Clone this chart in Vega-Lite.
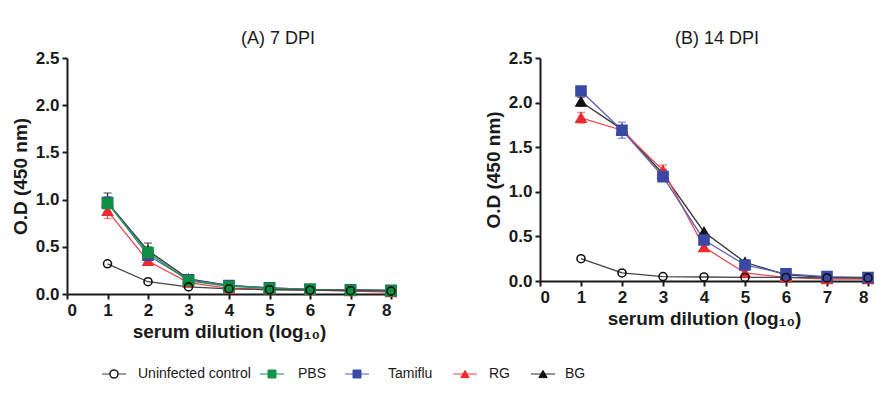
{
  "$schema": "https://vega.github.io/schema/vega-lite/v6.json",
  "background": "white",
  "autosize": {"type": "pad"},
  "padding": {"left": 11, "top": 30, "right": 5, "bottom": 5},
  "spacing": 23,
  "config": {
    "view": {"stroke": null},
    "axis": {
      "grid": false,
      "labelFont": "Liberation Sans", "labelFontWeight": "bold", "labelFontSize": 17, "labelColor": "#1a1a1a",
      "titleFont": "Liberation Sans", "titleFontWeight": "bold", "titleFontSize": 19, "titleColor": "#1a1a1a",
      "domainColor": "#1a1a1a", "domainWidth": 2, "tickColor": "#1a1a1a", "tickWidth": 2, "tickSize": 5
    },
    "title": {"font": "Liberation Sans", "fontSize": 18, "fontWeight": "normal", "color": "#1a1a1a"},
    "text": {"font": "Liberation Sans", "fontSize": 14, "color": "#1a1a1a", "align": "left", "baseline": "middle"},
    "tick": {"orient": "horizontal", "size": 24, "thickness": 1.5}
  },
  "datasets": {
    "d": [
      {"panel": "A", "series": "BG", "x": 1, "y": 0.97, "err": 0.1},
      {"panel": "A", "series": "BG", "x": 2, "y": 0.46, "err": 0.08},
      {"panel": "A", "series": "BG", "x": 3, "y": 0.16, "err": 0},
      {"panel": "A", "series": "BG", "x": 4, "y": 0.09, "err": 0},
      {"panel": "A", "series": "BG", "x": 5, "y": 0.065, "err": 0},
      {"panel": "A", "series": "BG", "x": 6, "y": 0.05, "err": 0},
      {"panel": "A", "series": "BG", "x": 7, "y": 0.045, "err": 0},
      {"panel": "A", "series": "BG", "x": 8, "y": 0.035, "err": 0},
      {"panel": "A", "series": "RG", "x": 1, "y": 0.88, "err": 0.08},
      {"panel": "A", "series": "RG", "x": 2, "y": 0.35, "err": 0.03},
      {"panel": "A", "series": "RG", "x": 3, "y": 0.12, "err": 0},
      {"panel": "A", "series": "RG", "x": 4, "y": 0.06, "err": 0},
      {"panel": "A", "series": "RG", "x": 5, "y": 0.05, "err": 0},
      {"panel": "A", "series": "RG", "x": 6, "y": 0.04, "err": 0},
      {"panel": "A", "series": "RG", "x": 7, "y": 0.03, "err": 0},
      {"panel": "A", "series": "RG", "x": 8, "y": 0.02, "err": 0},
      {"panel": "A", "series": "Tamiflu", "x": 1, "y": 0.97, "err": 0.06},
      {"panel": "A", "series": "Tamiflu", "x": 2, "y": 0.41, "err": 0},
      {"panel": "A", "series": "Tamiflu", "x": 3, "y": 0.15, "err": 0},
      {"panel": "A", "series": "Tamiflu", "x": 4, "y": 0.09, "err": 0},
      {"panel": "A", "series": "Tamiflu", "x": 5, "y": 0.065, "err": 0},
      {"panel": "A", "series": "Tamiflu", "x": 6, "y": 0.05, "err": 0},
      {"panel": "A", "series": "Tamiflu", "x": 7, "y": 0.045, "err": 0},
      {"panel": "A", "series": "Tamiflu", "x": 8, "y": 0.04, "err": 0},
      {"panel": "A", "series": "PBS", "x": 1, "y": 0.96, "err": 0.05},
      {"panel": "A", "series": "PBS", "x": 2, "y": 0.44, "err": 0.06},
      {"panel": "A", "series": "PBS", "x": 3, "y": 0.14, "err": 0},
      {"panel": "A", "series": "PBS", "x": 4, "y": 0.08, "err": 0},
      {"panel": "A", "series": "PBS", "x": 5, "y": 0.06, "err": 0},
      {"panel": "A", "series": "PBS", "x": 6, "y": 0.05, "err": 0},
      {"panel": "A", "series": "PBS", "x": 7, "y": 0.04, "err": 0},
      {"panel": "A", "series": "PBS", "x": 8, "y": 0.035, "err": 0},
      {"panel": "A", "series": "Uninfected control", "x": 1, "y": 0.32, "err": 0},
      {"panel": "A", "series": "Uninfected control", "x": 2, "y": 0.13, "err": 0},
      {"panel": "A", "series": "Uninfected control", "x": 3, "y": 0.075, "err": 0},
      {"panel": "A", "series": "Uninfected control", "x": 4, "y": 0.055, "err": 0},
      {"panel": "A", "series": "Uninfected control", "x": 5, "y": 0.045, "err": 0},
      {"panel": "A", "series": "Uninfected control", "x": 6, "y": 0.04, "err": 0},
      {"panel": "A", "series": "Uninfected control", "x": 7, "y": 0.035, "err": 0},
      {"panel": "A", "series": "Uninfected control", "x": 8, "y": 0.03, "err": 0},
      {"panel": "B", "series": "BG", "x": 1, "y": 2.01, "err": 0.05},
      {"panel": "B", "series": "BG", "x": 2, "y": 1.7, "err": 0},
      {"panel": "B", "series": "BG", "x": 3, "y": 1.2, "err": 0.05},
      {"panel": "B", "series": "BG", "x": 4, "y": 0.55, "err": 0},
      {"panel": "B", "series": "BG", "x": 5, "y": 0.21, "err": 0},
      {"panel": "B", "series": "BG", "x": 6, "y": 0.07, "err": 0},
      {"panel": "B", "series": "BG", "x": 7, "y": 0.04, "err": 0},
      {"panel": "B", "series": "BG", "x": 8, "y": 0.03, "err": 0},
      {"panel": "B", "series": "RG", "x": 1, "y": 1.83, "err": 0.06},
      {"panel": "B", "series": "RG", "x": 2, "y": 1.69, "err": 0},
      {"panel": "B", "series": "RG", "x": 3, "y": 1.24, "err": 0.06},
      {"panel": "B", "series": "RG", "x": 4, "y": 0.38, "err": 0},
      {"panel": "B", "series": "RG", "x": 5, "y": 0.09, "err": 0},
      {"panel": "B", "series": "RG", "x": 6, "y": 0.04, "err": 0},
      {"panel": "B", "series": "RG", "x": 7, "y": 0.02, "err": 0},
      {"panel": "B", "series": "RG", "x": 8, "y": 0.02, "err": 0},
      {"panel": "B", "series": "Tamiflu", "x": 1, "y": 2.13, "err": 0},
      {"panel": "B", "series": "Tamiflu", "x": 2, "y": 1.69, "err": 0.09},
      {"panel": "B", "series": "Tamiflu", "x": 3, "y": 1.17, "err": 0},
      {"panel": "B", "series": "Tamiflu", "x": 4, "y": 0.46, "err": 0.04},
      {"panel": "B", "series": "Tamiflu", "x": 5, "y": 0.18, "err": 0},
      {"panel": "B", "series": "Tamiflu", "x": 6, "y": 0.08, "err": 0},
      {"panel": "B", "series": "Tamiflu", "x": 7, "y": 0.05, "err": 0},
      {"panel": "B", "series": "Tamiflu", "x": 8, "y": 0.04, "err": 0},
      {"panel": "B", "series": "Uninfected control", "x": 1, "y": 0.25, "err": 0},
      {"panel": "B", "series": "Uninfected control", "x": 2, "y": 0.09, "err": 0},
      {"panel": "B", "series": "Uninfected control", "x": 3, "y": 0.05, "err": 0},
      {"panel": "B", "series": "Uninfected control", "x": 4, "y": 0.045, "err": 0},
      {"panel": "B", "series": "Uninfected control", "x": 5, "y": 0.04, "err": 0},
      {"panel": "B", "series": "Uninfected control", "x": 6, "y": 0.04, "err": 0},
      {"panel": "B", "series": "Uninfected control", "x": 7, "y": 0.035, "err": 0},
      {"panel": "B", "series": "Uninfected control", "x": 8, "y": 0.035, "err": 0}
    ],
    "legendItems": [
      {"series": "Uninfected control"},
      {"series": "PBS"},
      {"series": "Tamiflu"},
      {"series": "RG"},
      {"series": "BG"}
    ]
  },
  "vconcat": [
    {
      "spacing": 84,
      "hconcat": [
        {
          "width": 324, "height": 236,
          "title": {"text": "(A) 7 DPI", "frame": "group", "dx": 49, "offset": 1},
          "data": {"name": "d"},
          "transform": [{"filter": "datum.panel === 'A'"}],
          "encoding": {
            "x": {"field": "x", "type": "quantitative", "scale": {"domain": [0, 8], "nice": false},
                  "axis": {"values": [0, 1, 2, 3, 4, 5, 6, 7, 8], "title": "serum dilution (log₁₀)", "labelPadding": 3, "titlePadding": 4}},
            "y": {"field": "y", "type": "quantitative", "scale": {"domain": [0, 2.5], "nice": false},
                  "axis": {"values": [0, 0.5, 1, 1.5, 2, 2.5], "format": ".1f", "title": "O.D (450 nm)", "labelPadding": 3, "titlePadding": 5}}
          },
          "layer": [
            {
              "transform": [{"filter": "datum.err > 0"}],
              "mark": {"type": "errorbar", "ticks": {"size": 8, "thickness": 1.3}, "thickness": 1.3},
              "encoding": {
                "yError": {"field": "err"},
                "color": {"field": "series", "type": "nominal", "legend": null,
                  "scale": {"domain": ["Uninfected control", "PBS", "Tamiflu", "RG", "BG"], "range": ["#444444", "#1a9a4a", "#5a62b8", "#f0474d", "#333333"]}}
              }
            },
            {
              "mark": {"type": "line", "strokeWidth": 1.3},
              "encoding": {
                "color": {"field": "series", "type": "nominal", "legend": null,
                  "scale": {"domain": ["Uninfected control", "PBS", "Tamiflu", "RG", "BG"], "range": ["#444444", "#1a9a4a", "#5a62b8", "#f0474d", "#555555"]}}
              }
            },
            {
              "mark": {"type": "point", "strokeWidth": 1.6, "opacity": 1},
              "encoding": {
                "shape": {"condition": [{"test": "datum.series === 'Uninfected control'", "value": "circle"}, {"test": "datum.series === 'RG' || datum.series === 'BG'", "value": "triangle-up"}], "value": "square"},
                "size": {"condition": {"test": "datum.series === 'Uninfected control'", "value": 64}, "value": 100},
                "fill": {"condition": [{"test": "datum.series === 'Uninfected control'", "value": "transparent"}, {"test": "datum.series === 'PBS'", "value": "#0f8f42"}, {"test": "datum.series === 'Tamiflu'", "value": "#3a49a3"}, {"test": "datum.series === 'RG'", "value": "#ee2a31"}], "value": "#111111"},
                "stroke": {"condition": [{"test": "datum.series === 'Uninfected control'", "value": "#111111"}, {"test": "datum.series === 'PBS'", "value": "#0f8f42"}, {"test": "datum.series === 'Tamiflu'", "value": "#3a49a3"}, {"test": "datum.series === 'RG'", "value": "#ee2a31"}], "value": "#111111"}
              }
            }
          ]
        },
        {
          "width": 328, "height": 223,
          "title": {"text": "(B) 14 DPI", "frame": "group", "dx": 13, "offset": 1},
          "data": {"name": "d"},
          "transform": [{"filter": "datum.panel === 'B'"}],
          "encoding": {
            "x": {"field": "x", "type": "quantitative", "scale": {"domain": [0, 8], "nice": false},
                  "axis": {"values": [0, 1, 2, 3, 4, 5, 6, 7, 8], "title": "serum dilution (log₁₀)", "labelPadding": 3, "titlePadding": 4}},
            "y": {"field": "y", "type": "quantitative", "scale": {"domain": [0, 2.5], "nice": false},
                  "axis": {"values": [0, 0.5, 1, 1.5, 2, 2.5], "format": ".1f", "title": "O.D (450 nm)", "labelPadding": 3, "titlePadding": 5}}
          },
          "layer": [
            {
              "transform": [{"filter": "datum.err > 0"}],
              "mark": {"type": "errorbar", "ticks": {"size": 8, "thickness": 1.3}, "thickness": 1.3},
              "encoding": {
                "yError": {"field": "err"},
                "color": {"field": "series", "type": "nominal", "legend": null,
                  "scale": {"domain": ["Uninfected control", "PBS", "Tamiflu", "RG", "BG"], "range": ["#444444", "#1a9a4a", "#5a62b8", "#f0474d", "#333333"]}}
              }
            },
            {
              "mark": {"type": "line", "strokeWidth": 1.3},
              "encoding": {
                "color": {"field": "series", "type": "nominal", "legend": null,
                  "scale": {"domain": ["Uninfected control", "PBS", "Tamiflu", "RG", "BG"], "range": ["#444444", "#1a9a4a", "#5a62b8", "#f0474d", "#555555"]}}
              }
            },
            {
              "mark": {"type": "point", "strokeWidth": 1.6, "opacity": 1},
              "encoding": {
                "shape": {"condition": [{"test": "datum.series === 'Uninfected control'", "value": "circle"}, {"test": "datum.series === 'RG' || datum.series === 'BG'", "value": "triangle-up"}], "value": "square"},
                "size": {"condition": {"test": "datum.series === 'Uninfected control'", "value": 64}, "value": 100},
                "fill": {"condition": [{"test": "datum.series === 'Uninfected control'", "value": "transparent"}, {"test": "datum.series === 'PBS'", "value": "#0f8f42"}, {"test": "datum.series === 'Tamiflu'", "value": "#3a49a3"}, {"test": "datum.series === 'RG'", "value": "#ee2a31"}], "value": "#111111"},
                "stroke": {"condition": [{"test": "datum.series === 'Uninfected control'", "value": "#111111"}, {"test": "datum.series === 'PBS'", "value": "#0f8f42"}, {"test": "datum.series === 'Tamiflu'", "value": "#3a49a3"}, {"test": "datum.series === 'RG'", "value": "#ee2a31"}], "value": "#111111"}
              }
            }
          ]
        }
      ]
    },
    {
      "bounds": "flush",
      "spacing": 0,
      "hconcat": [
        {
          "width": 208, "height": 20,
          "data": {"name": "legendItems"},
          "transform": [{"filter": "datum.series === 'Uninfected control'"}],
          "layer": [
            {"mark": {"type": "tick", "color": "#444444", "xOffset": -57}, "encoding": {}},
            {"mark": {"type": "point", "shape": "circle", "size": 64, "filled": true, "fill": "white", "stroke": "#222222", "strokeWidth": 1.6, "opacity": 1, "xOffset": -57}, "encoding": {}},
            {"mark": {"type": "text", "dx": 24, "xOffset": -57}, "encoding": {"text": {"field": "series"}}}
          ]
        },
        {
          "width": 108, "height": 20,
          "data": {"name": "legendItems"},
          "transform": [{"filter": "datum.series === 'PBS'"}],
          "layer": [
            {"mark": {"type": "tick", "color": "#1a9a4a", "xOffset": -57}, "encoding": {}},
            {"mark": {"type": "point", "shape": "square", "size": 64, "filled": true, "fill": "#12924a", "stroke": "#12924a", "strokeWidth": 1, "opacity": 1, "xOffset": -57}, "encoding": {}},
            {"mark": {"type": "text", "dx": 26, "xOffset": -57}, "encoding": {"text": {"field": "series"}}}
          ]
        },
        {
          "width": 62, "height": 20,
          "data": {"name": "legendItems"},
          "transform": [{"filter": "datum.series === 'Tamiflu'"}],
          "layer": [
            {"mark": {"type": "tick", "color": "#6068b8", "xOffset": -57}, "encoding": {}},
            {"mark": {"type": "point", "shape": "square", "size": 64, "filled": true, "fill": "#3b4aa6", "stroke": "#3b4aa6", "strokeWidth": 1, "opacity": 1, "xOffset": -57}, "encoding": {}},
            {"mark": {"type": "text", "dx": 31, "xOffset": -57}, "encoding": {"text": {"field": "series"}}}
          ]
        },
        {
          "width": 154, "height": 20,
          "data": {"name": "legendItems"},
          "transform": [{"filter": "datum.series === 'RG'"}],
          "layer": [
            {"mark": {"type": "tick", "color": "#f0474d", "xOffset": -57}, "encoding": {}},
            {"mark": {"type": "point", "shape": "triangle-up", "size": 70, "filled": true, "fill": "#ee2a31", "stroke": "#ee2a31", "strokeWidth": 1, "opacity": 1, "xOffset": -57}, "encoding": {}},
            {"mark": {"type": "text", "dx": 24, "xOffset": -57}, "encoding": {"text": {"field": "series"}}}
          ]
        },
        {
          "width": 2, "height": 20,
          "data": {"name": "legendItems"},
          "transform": [{"filter": "datum.series === 'BG'"}],
          "layer": [
            {"mark": {"type": "tick", "color": "#333333", "xOffset": -57}, "encoding": {}},
            {"mark": {"type": "point", "shape": "triangle-up", "size": 70, "filled": true, "fill": "#111111", "stroke": "#111111", "strokeWidth": 1, "opacity": 1, "xOffset": -57}, "encoding": {}},
            {"mark": {"type": "text", "dx": 22, "xOffset": -57}, "encoding": {"text": {"field": "series"}}}
          ]
        }
      ]
    }
  ]
}
